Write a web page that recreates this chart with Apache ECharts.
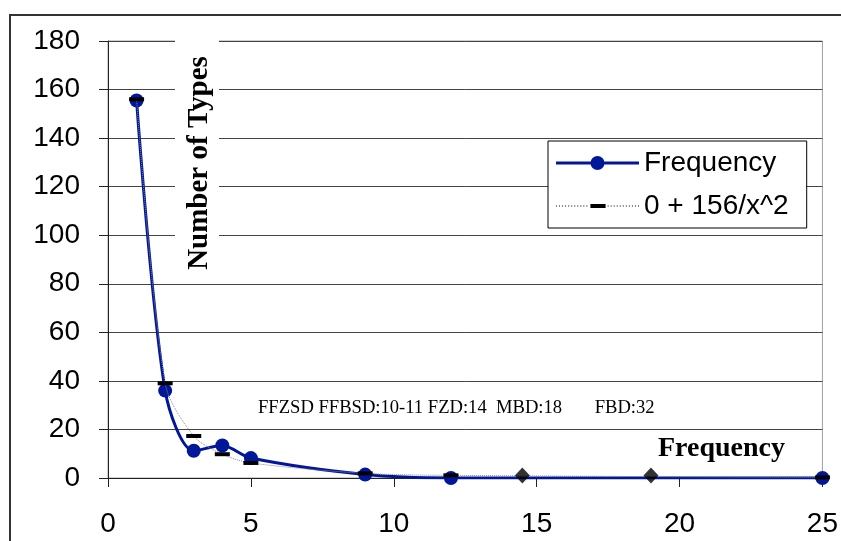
<!DOCTYPE html>
<html>
<head>
<meta charset="utf-8">
<script src="https://cdn.jsdelivr.net/npm/echarts@6/dist/echarts.min.js"></script>
<style>
  html, body { margin: 0; padding: 0; background: #fff; }
  #chart { width: 841px; height: 541px; }
</style>
</head>
<body>
<div id="chart"></div>
<script>
// observed frequencies
var freqX = [1, 2, 3, 4, 5, 9, 12, 25];
var freqY = [155.5, 36, 11.2, 13.4, 8.2, 1.4, 0, 0];
// fitted curve 0 + 156/x^2
var fitY = [156, 39, 17.3, 9.8, 6.2, 1.9, 1.1, 0.25];
// extra diamond markers
var diamondX = [14.5, 19];
var diamondY = [1, 1];

var xTicks = [0, 5, 10, 15, 20, 25];
var yTicks = [0, 20, 40, 60, 80, 100, 120, 140, 160, 180];

var note = 'FFZSD FFBSD:10-11 FZD:14  MBD:18       FBD:32';

function pairs(xs, ys) {
  return xs.map(function (x, i) { return [x, ys[i]]; });
}

// legend icons: thick line with a dot, and dotted line with a dash
var freqIcon = 'path://M0,5.5H83V8.5H0Z M34.5,7A7,7 0 1,1 48.5,7A7,7 0 1,1 34.5,7Z';
var fitIcon = 'path://M34,0H49V4H34Z';
for (var d = 0; d < 33; d += 3) {
  fitIcon += ' M' + d + ',1.5h1v1h-1Z M' + (d + 51) + ',1.5h1v1h-1Z';
}

var chart = echarts.init(document.getElementById('chart'));

chart.setOption({
  animation: false,
  backgroundColor: '#fff',
  grid: {
    left: 108,
    top: 41,
    right: 18,
    bottom: 63,
    show: true,
    borderColor: '#a0a0a0',
    borderWidth: 1
  },
  xAxis: {
    type: 'value',
    min: xTicks[0],
    max: xTicks[xTicks.length - 1],
    interval: 5,
    axisLine: { lineStyle: { color: '#222', width: 1 } },
    axisTick: { show: true, length: 9, lineStyle: { color: '#222' } },
    splitLine: { show: false },
    axisLabel: {
      margin: 32,
      color: '#000',
      fontSize: 28,
      fontFamily: 'Liberation Sans'
    }
  },
  yAxis: {
    type: 'value',
    min: yTicks[0],
    max: yTicks[yTicks.length - 1],
    interval: 20,
    axisLine: { show: true, lineStyle: { color: '#222', width: 1 } },
    axisTick: { show: true, length: 9, lineStyle: { color: '#222' } },
    splitLine: { show: true, lineStyle: { color: '#444', width: 1 } },
    axisLabel: {
      margin: 28,
      color: '#000',
      fontSize: 28,
      fontFamily: 'Liberation Sans'
    }
  },
  legend: {
    orient: 'vertical',
    left: 548,
    top: 141,
    backgroundColor: '#fff',
    borderColor: '#000',
    borderWidth: 1,
    padding: [8, 18, 8, 8],
    itemWidth: 83,
    itemHeight: 14,
    itemGap: 15,
    symbolKeepAspect: true,
    data: [
      { name: 'Frequency', icon: freqIcon, itemStyle: { color: '#00179a', borderWidth: 0 } },
      { name: '0 + 156/x^2', icon: fitIcon, itemStyle: { color: '#000', borderWidth: 0 } }
    ],
    textStyle: { fontSize: 28, fontFamily: 'Liberation Sans', color: '#000' }
  },
  graphic: [
    {
      type: 'rect',
      shape: { x: 10, y: 15, width: 900, height: 600 },
      style: { fill: 'none', stroke: '#333', lineWidth: 2 },
      silent: true,
      z: 100
    },
    {
      type: 'rect',
      shape: { x: 175, y: 38, width: 44, height: 238 },
      style: { fill: '#fff' },
      z: 50
    },
    {
      type: 'text',
      x: 200,
      y: 163,
      rotation: Math.PI / 2,
      style: {
        text: 'Number of Types',
        font: 'bold 29px "Liberation Serif"',
        fill: '#000',
        align: 'center',
        verticalAlign: 'middle'
      },
      z: 51
    },
    {
      type: 'text',
      x: 258,
      y: 408,
      style: {
        text: note,
        font: '18.6px "Liberation Serif"',
        fill: '#000',
        align: 'left',
        verticalAlign: 'middle'
      },
      z: 51
    },
    {
      type: 'text',
      x: 658,
      y: 449,
      style: {
        text: 'Frequency',
        font: 'bold 28px "Liberation Serif"',
        fill: '#000',
        align: 'left',
        verticalAlign: 'middle'
      },
      z: 51
    }
  ],
  series: [
    {
      name: 'Frequency',
      type: 'line',
      data: pairs(freqX, freqY),
      smooth: 0.3,
      symbol: 'circle',
      symbolSize: 14,
      lineStyle: { color: '#00179a', width: 3 },
      itemStyle: { color: '#00179a' },
      z: 3
    },
    {
      name: '0 + 156/x^2',
      type: 'line',
      data: pairs(freqX, fitY),
      smooth: 0.3,
      symbol: 'rect',
      symbolSize: [15, 4],
      lineStyle: { color: '#888', width: 1, type: 'dotted' },
      itemStyle: { color: '#000' },
      z: 4
    },
    {
      name: 'markers',
      type: 'scatter',
      data: pairs(diamondX, diamondY),
      symbol: 'diamond',
      symbolSize: [15, 16],
      itemStyle: { color: '#000' },
      z: 5
    }
  ]
});
</script>
</body>
</html>
